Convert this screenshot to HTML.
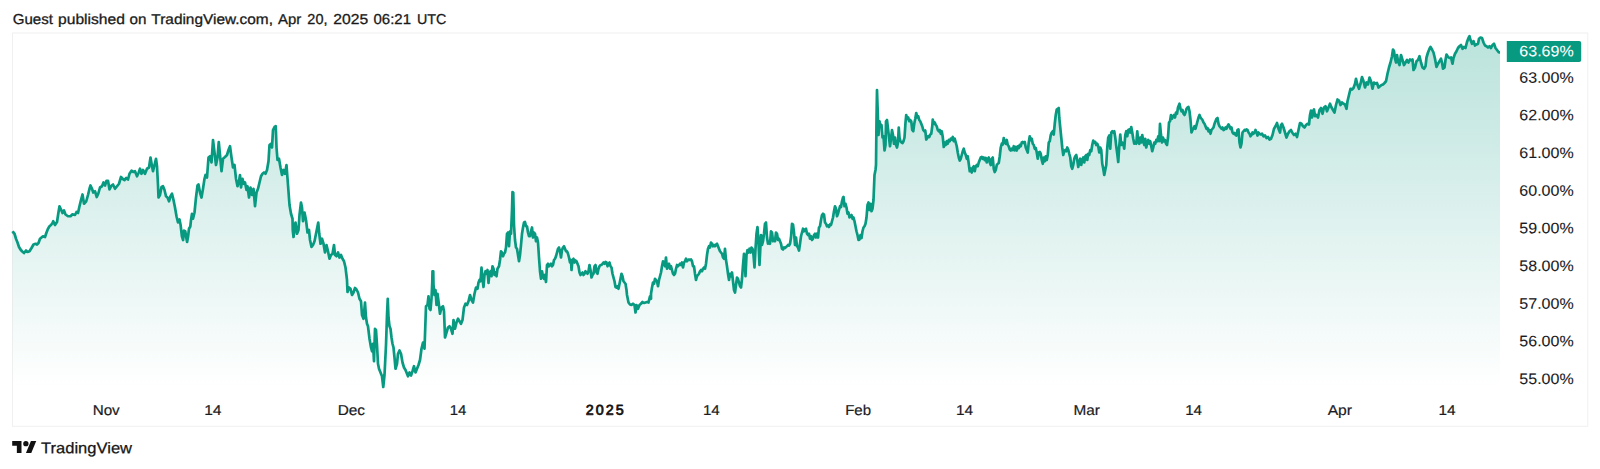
<!DOCTYPE html>
<html lang="en"><head><meta charset="utf-8"><title>TradingView Chart Snapshot</title>
<style>
html,body{margin:0;padding:0;background:#fff;}
body{width:1600px;height:469px;overflow:hidden;}
svg{display:block;}
svg text{font-family:"Liberation Sans",Arial,Helvetica,sans-serif;}
</style></head><body>
<svg width="1600" height="469" viewBox="0 0 1600 469">
<defs><linearGradient id="g" gradientUnits="userSpaceOnUse" x1="0" y1="33.0" x2="0" y2="388.0"><stop offset="0" stop-color="#089981" stop-opacity="0.28"/><stop offset="1" stop-color="#089981" stop-opacity="0"/></linearGradient></defs>
<rect x="12.5" y="33" width="1575.3" height="393.3" fill="none" stroke="#f0f0f0" stroke-width="1"/>
<path d="M12.5 231.25L13 232L14.5 233.75L16 238.75L17.5 242.5L19 247L20.5 249.5L22 251.25L24 253L26 250.5L27.5 252L29.5 251.25L31.5 248L33.5 244.5L35.5 243.75L37 244.5L38.5 243L40 238.75L41.5 237.5L43 236.25L45 237L46.5 232.5L48 228.75L49.5 226.25L51 225L52.5 223L53.25 221.25L55 225L57 222L58.25 213.75L59.5 206.25L61.25 210L62.5 213L64 210.5L65.5 214.5L68 216.25L70.5 216.25L72.5 214.25L75 215L76.5 212L78 213L79.5 206.25L81 200L82.5 194.5L84 203.75L86.25 201.25L88 195L89.5 188.75L90.5 185.5L92 188.75L93.25 192.5L95 191.25L96.75 197L98.25 193.75L100 187.5L102 186.25L103.5 182.5L105 185.5L106.5 180.75L108 180.75L109.5 189.5L111.5 185.5L113 184.5L115 188.75L117 186.25L119 183.75L121 177L122.5 178.75L124.5 180L126.25 178L128 179.5L129.5 173.75L131.5 170.75L133.5 172L135 171.25L137 176.25L138.75 172.5L140 168.75L141.5 173.75L143 170L145 173.75L147 168.75L149 167.5L150.5 157.5L152 166.25L153 171.25L154.5 165L156 158.75L157 166.25L158 185L158.5 197.5L160 195L161.5 187L163 186.25L164.5 190L166 196.25L167.5 197.5L169 201.25L170.5 196.25L172 193.75L173.5 200L175 207.5L176.5 216.25L178 222.5L179.5 219.5L180.6 225L181.9 236.25L183.1 240L184 230.6L185.25 231.25L186.25 237.5L187.1 241.9L188.1 236.25L189 228.75L190.3 226.5L191 220L192 213.75L193 218.75L194.5 212.5L196 197.5L197.5 185.5L198.5 184.5L200 192.5L201.5 197.5L203 188.75L204.5 178.75L205.5 175L207 177.5L208.5 157.5L210 156.25L211.5 162.5L213 140L214.5 152.5L216 165L217.5 157.5L218.75 142L220 155L221.5 171.25L223 158.75L225 157L227 155L228.5 150L230 146.25L231.5 157.5L233 167.5L234.5 165L236 178.75L237.5 186.25L239 181.25L240 175L241 187.5L242.5 178.75L243.75 183.75L245 182.5L246.5 190L247.5 186.25L249 197.5L250.5 187.5L252 195L253.5 188.75L255 206.25L256.5 192.5L258 188.75L259.5 182.5L261 176.25L262.5 173.75L264 172.5L265.5 173.75L267 170L268.5 161.25L269.5 145L271 143.75L272 147.5L273 130L274.5 127L275.75 126.25L276.5 147.5L277.5 160L279 158.75L280.5 167.5L282 175L283.5 170L285 173.75L286.5 165L288 185L289.5 205L291 213.75L292.5 218.75L292.75 230L293.5 237L294.5 228.75L295.5 222.5L297 233.75L298.5 230L299.5 215L301 202.5L302 207.5L303 221.25L304.5 212.5L306 220L307.5 232.5L309 230L310 240L311.5 247L313 245L314.5 241.25L316 233.75L317.5 226.25L318.25 222.5L319.25 233.75L320.5 243.75L322 238.75L323.5 243.75L325 252.5L326.5 245L328 251.25L329.5 258.75L331 255L332.5 253.75L334 245L335 255L336.5 256.25L338 252.5L339.5 257.5L341 255L342.5 258.75L344 261.25L345.5 267.5L347 280L347.5 292L349 287.5L350.5 288.75L352 295L353.5 292.5L355 288L356.5 289.5L358 292.5L359.5 298.75L361 301.25L362 315L363.5 318.75L365 302.5L366 317.5L367 323.75L368 326.25L369.5 338.75L371 347.5L372 351.25L373 343.75L374 361.25L375 328.75L376 330L377 345L378 363.75L379 368.75L380.5 372.5L382 376.25L383.25 387L384.5 375L386 345L387 315L387.75 298.75L388.5 317.5L389.5 326.25L390.5 328.75L391.5 337.5L392.5 343.75L393.5 347.5L394.5 357.5L395.5 368.75L397 363.75L398 353.75L399.5 350.5L401 353.75L402.5 362.5L404 367.5L405.5 370L407 373.75L408 376.25L409.5 372.5L411 375.5L412.5 371.25L414 366.25L415.5 372.5L417 368.75L418.5 365L420 360L421.5 348.75L423 342.5L424.5 348.75L426 306.25L427.5 305L428.5 296.25L429.5 308.75L430.5 310L431.5 298.75L432.25 282.5L432.5 271.25L433.25 271.25L433.5 285L434.5 295L435.5 290L436.5 305L437.5 293.75L438.5 301.25L440 313.75L441.5 307.5L443 306.25L444 311.25L445 337.5L446.5 332.5L448 327.5L449.5 326.25L451 328.75L452.5 333.75L453.5 320L455 328.75L456.5 322.5L458 318.75L459.5 321.25L461 323.75L462.5 320L464 307.5L465.5 303.75L467 305L468.5 301.25L470 295L471.5 300L473 302.5L474.5 293.75L476 287.5L477.5 288.75L478.5 282.5L479.5 280L480.5 281.25L481.5 267.5L482.5 278.75L483.5 287L484.5 275L485.5 271.25L486.5 273.75L487.5 270L488.5 283L489.5 272.5L490.5 271.25L491.5 276.25L492.5 266.25L493.5 268.75L494.5 275L495.5 272.5L496.5 276.25L497.5 268.75L499 266.25L500 260L501 251.25L502 252.5L503 256.25L504 253.75L505 252.5L506 247.5L507 233.75L508 232.5L509 246.25L510 231.25L511 233.75L512 210L512.5 192L513.25 192.5L514 225L515 240L516 247.5L517 248.75L518 255L519 261.25L520 255L521 245L522 233.75L523 227.5L524 222.5L525 222L526 226.25L527 226.25L528 232.5L529 236.25L530 236.25L531 231.25L532 227.5L533 237.5L534 232.5L535 233.75L536 241.25L537 237.5L538 242.5L539 257.5L540 271.25L541 278.75L542 271.25L543 276.25L544 278.75L545 275L546 282L547 265L548 263.75L549 266.25L550 265L551 263.75L552 266.25L553 265L554 260L555 258.75L556 256.25L557 252.5L558 248.75L559 247.5L560 251.25L561 257.5L562 250L563 247.5L564 246.25L565 248.75L566 251.25L567 251.25L568 253.75L569 257.5L570 262.5L571 260L571.5 270L572.5 260L573.5 258.75L574.5 262.5L575.5 260.5L576.5 261.25L577.5 263.75L578.5 266.25L579.5 272.5L580.5 275L581.5 273.75L582.5 272.5L583.5 275L584.5 273.75L585.5 271.25L586.5 272.5L587.5 273.75L588.5 271.25L589.5 265L590.5 270L591.5 277.5L592.5 275L593.5 273.75L594.5 266.25L595.5 265L596.5 272.5L597.5 273.75L598.5 268.75L599.5 266.25L600.5 265L601.5 265L602.5 263.75L603.5 262.5L604.5 263.75L605.5 262L606.5 262.5L607.5 266.25L608.5 263.75L609.5 262.5L610.5 266.25L611.5 267.5L612.5 273.75L613.5 277.5L614.5 281.25L615.5 287L616.5 287.5L617.5 286.25L618.5 288.75L619.5 283.75L620.5 278.75L621.5 273.75L622.5 276.25L623.5 281.25L624.5 282.5L625.5 283.75L626.5 290L627 295L628.5 302.5L630 304.5L631.5 305L633 303.75L634.5 305L635.5 312.5L636.5 305L638 308.75L639.5 305L641 303.75L642.5 302L644 303L645.5 302.5L647 302L648.5 302.5L650 296.25L651 298.75L651 293.75L652 287.5L653 282.5L654 283.75L655 278.75L656 280L657 281.25L658 286.25L659 280L660 276.25L661 272.5L662 266.25L663 261.25L664 262.5L665 266.25L666 257.5L667 268.75L668 265L669 263.75L670 268.75L671 266.25L672 270L673 273.75L674 275L675 273.75L676 268.75L677 265L678 266.25L679 265L680 263.75L681 265L682 262.5L683 267.5L684 262.5L685 261.25L686 258.75L687 261.25L688 260L689 259.5L690 260L691 259.5L692 261.25L693 266.25L694 266.25L695 273.75L696 280L697 276.25L698 275L699 273.75L700 271.25L701 270L702 271.25L703 268.75L704 267.5L705 268.75L706 263.75L707 255L708 248.75L709 246.25L710 247.5L711 242.5L712 243.75L713 246.25L714 245L715 246.25L716 244.5L717 243.75L718 246.25L719 248.75L720 251.25L721 252.5L722 253.75L723 257.5L724 258.75L725 248.75L726 260L727 266.25L728 273.75L729 280L730 273.75L731 276.25L732 272.5L733 281.25L734 290L735 292.5L736 285L737 277.5L738 278.75L739 282.5L740 286.25L741 287.5L742 278.75L743 265L744 253.75L745 265L745.5 276.25L746.5 255L747.5 250L748.5 252.5L749.5 248.75L750.5 252.5L751.5 247.5L752.5 248.75L753.5 255L754.5 267.5L755.5 248.75L756.5 233.75L757.5 227L758.5 242.5L759.5 265L761 235L762 245L763 241.25L764 233.75L765 223.75L766 222.5L767 237.5L768 243.75L769 242.5L770 243.75L771 231.25L772 232.5L773 241.25L774 240L775 241.25L776 232.5L777 233.75L778 240L779 238.75L780 241.25L781 243.75L782 248.75L783 249.5L784 247.5L785 248L786 247L787 246.25L788 245L789 245.5L790 243.75L791 237.5L792 223.75L793 224.5L794 232.5L795 245L796 237.5L797 246.25L798 247.5L799 250.5L800 243.75L801 236.25L802 232.5L803 228.75L804 231.25L805 229.5L806 228.75L807 233.75L808 235L809 233.75L810 238.75L811 236.25L812 240L813 238.75L814 235L815 233.75L816 237.5L817 233.75L818 237.5L819 227.5L820 226.25L821 220L822 215L823 213.75L824 214.5L825 222.5L826 223.75L827 226.25L828 225.5L829 227L830 224.5L831 225L832 221.25L833 217.5L834 211.25L835 206.25L836 208.75L837 216.25L838 213.75L839 210L840 206.25L841 207L842 201.25L843 197.5L843.5 197L844.5 206.25L845.5 203.75L846.5 207.5L847.5 213.75L848.5 212.5L849.5 217.5L850.5 216.25L851.5 215L852.5 218.75L853.5 217.5L854.5 221.25L855.5 226.25L856.5 231.25L857.5 235L858.5 240L859.5 239.5L860.5 235L861.5 238L862.5 231.25L863.5 227.5L864.5 226.25L865.5 223.75L866.5 217.5L867.5 205L868.5 202.5L869.5 210L870.5 203.75L871.5 211.25L872.5 208.75L873.5 200L874.5 175L875.5 170L876 165L876.5 120L877 90L877.5 105L878.5 135L879.5 121.25L880.5 126.25L881.5 125L882.5 137.5L883.5 136.25L884.5 150.5L885.5 145L886 121.25L887 120L888 128.75L889 137.5L890 146.25L891 138.75L892 130L893 135L894 143.75L895 137.5L896 145L897 147.5L898 142.5L898.75 127.5L899.5 137.5L900.5 141.25L901.5 142.5L902.5 143L903.5 141.25L904.5 137.5L905.5 122.5L906.25 115L907.25 118.75L908.25 117.5L909.25 121.25L910.25 120L911.25 121.25L912.25 130L913.25 131.25L914.25 123.75L915.25 118.75L916.25 113L917.25 117.5L918.25 116.25L919.25 120L920.25 121.25L921.25 123.75L922.25 126.25L923.25 130L924.25 131.25L925.25 130.5L926.25 139.5L927.25 138L928.25 136.25L929.25 137L930.25 134.5L931.25 133.75L932.25 126.25L932.75 119.5L933.75 123.75L934.75 122.5L935.75 125L936.75 126.25L937.75 130L938.75 131.25L939.75 130L940.75 133.75L941.75 131.25L942.75 137L943.75 147L944.75 142.5L945.75 145L946.75 141.25L947.75 143.75L948.75 140L949.75 141.25L950.75 138.75L951.75 139.5L952.75 137L953.75 141.25L954.75 138.75L955.75 142.5L956.75 146.25L957.75 152.5L958.75 157.5L959.75 160.5L960.75 158.75L961.75 155L962.75 151.25L963.75 148.75L964.75 152.5L965.75 155L966.75 158.75L967.75 156.25L968.75 163.75L969.75 171.25L970.75 168.75L971.75 172.5L972.75 167.5L973.75 166.25L974.75 171.25L975.75 166.25L976.75 165L977.75 166.25L978.75 162.5L979.75 160L980.75 157.5L981.75 157L982.75 158.75L983.75 157.5L984.75 160L985.75 158L986.75 162.5L987.75 158.75L988.75 157.5L989.75 162.5L990.75 165L991.75 158.75L992.75 157.5L993.75 168.75L994.75 172L995.75 170L996.75 165L997.75 163.75L998.75 163L999.75 156.25L1000.75 147.5L1001.75 143.75L1002.75 144.5L1003.75 138L1004.75 142.5L1005.75 143.75L1006.75 140L1007.75 145L1008.75 146.25L1009.75 149.5L1010.75 150.5L1011.75 148.75L1012.75 150L1013.75 146.25L1014.75 150.5L1015.75 147L1016.75 150.5L1017.75 146.25L1018.75 148L1019.75 145L1020.75 146.25L1021.75 142.5L1022.75 142L1023.75 143L1024.75 142L1025.75 147.5L1026.75 150L1027.75 152.5L1028.75 142.5L1029.75 136.25L1030.75 140L1031.75 138.75L1032.75 143.75L1033.75 145L1034.75 148.75L1035.75 148L1036.75 152.5L1037.75 158.75L1038.75 152.5L1039.75 152L1040.75 153.75L1041.75 160L1042.75 163.75L1043.75 157.5L1044.75 161.25L1045.75 156.25L1046.75 160L1047.75 155L1048.75 142.5L1049.75 141.25L1050.75 135L1051.75 132.5L1052.75 131.25L1053.75 134.5L1054.75 123.75L1055.75 115L1056.75 109.5L1057.75 108.75L1058.75 108L1059.25 117.5L1060.25 127.5L1061.25 137.5L1062.25 147.5L1063.25 155L1064.25 151.25L1065.25 150L1066.25 151.25L1067.25 147.5L1068.25 149.5L1069.25 153.75L1070.25 157.5L1071.25 166.25L1072.25 168.75L1073.25 165L1074.25 158.75L1075.25 156.25L1076.25 155L1077.25 160L1078.25 167L1079.25 162.5L1080.25 158.75L1081.25 165L1082.25 160L1083.25 157.5L1084.25 162.5L1085.25 156.25L1086.25 155L1087.25 160L1088.25 153.75L1089.25 155L1090.25 150L1091.25 151.25L1092.25 145L1093.25 140.5L1094.25 142.5L1095.25 142L1096.25 145L1097.25 143.75L1098.25 146.25L1099.25 152.5L1100.25 147.5L1101.25 150L1102.25 163.75L1103.25 168.75L1104.25 175L1105.25 170L1106.25 165L1107.25 147.5L1108.25 137.5L1109.25 135.5L1110.25 148.75L1111.25 132.5L1112.25 131.25L1113.25 132.5L1114.25 131.25L1115.25 137.5L1116.25 146.25L1117.25 153.75L1118.25 162L1119.25 146.25L1120.25 134.5L1121.25 145L1122.25 142.5L1123.25 143.75L1124.25 148.75L1125.25 135L1126.25 131.25L1127.25 136.25L1128.25 130L1129.25 129.5L1130.25 132.5L1131.25 127L1132.25 132.5L1133.25 138.75L1134.25 143.75L1135.25 142.5L1136.25 143.75L1137.25 131.25L1138.25 141.25L1139.25 143.75L1140.25 137.5L1141.25 142.5L1142.25 135L1143.25 141.25L1144.25 145L1145.25 138.75L1146.25 147.5L1147.25 142.5L1148.25 140L1149.25 143.75L1150.25 141.25L1151.25 146.25L1152.25 151.25L1153.25 147.5L1154.25 142.5L1155.25 143.75L1156.25 140L1157.25 141.25L1158.25 136.25L1159.25 141.25L1160 123.75L1161 135L1162 142.5L1163 137.5L1164 141.25L1165 140L1166 143.75L1167 145L1168 137.5L1169 122.5L1170 121.25L1171 115L1172 118.75L1173 116.25L1174 115L1175 117.5L1176 112.5L1177 113.75L1178 107.5L1179 105L1179.5 103.75L1180.5 108.75L1181.5 111.25L1182.5 110L1183.5 113.75L1184.5 115L1185.5 112.5L1186.5 108.75L1187.5 107.5L1188.5 107L1189.5 111.25L1190.5 120L1191.5 132.5L1192.5 130L1193.5 128.75L1194.5 126.25L1195.5 128.75L1196.5 125L1197.5 121.25L1198.5 117.5L1199.5 115L1200.5 117.5L1201.5 118.75L1202.5 120L1203.5 122.5L1204.5 123.75L1205.5 126.25L1206.5 128.75L1207.5 128L1208.5 131.25L1209.5 130L1210.5 133.75L1211.5 130L1212.5 128.75L1213.5 127.5L1214.5 123.75L1215.5 121.25L1216.5 118.75L1217.5 118L1218.5 123.75L1219.5 126.25L1220.5 127.5L1221.5 128.75L1222.5 127.5L1223.5 130L1224.5 129.5L1225.5 127.5L1226.5 128.75L1227.5 126.25L1228.5 124.5L1229.5 126.25L1230.5 128.75L1231.5 127.5L1232.5 132.5L1233.5 133.75L1234.5 133L1235.5 135L1236.5 135.5L1237.5 130L1238.5 129.5L1239.5 142.5L1240.5 147.5L1241.5 143.75L1242.5 132.5L1243.5 131.25L1244.5 130L1245.5 130.5L1246.5 129.5L1247.5 130L1248.5 132.5L1249.5 133.75L1250.5 136.25L1251.5 135L1252.5 132.5L1253.5 133.75L1254.5 132.5L1255.5 130L1256.5 132.5L1257.5 135.5L1258.5 132.5L1259.5 133.75L1260.5 134.5L1262 133.75L1263.5 136.25L1265 135.5L1266.5 138L1268 137L1269.5 139.5L1271 138.75L1272.5 135L1274 128.75L1275.5 126.25L1277 123L1278.5 128.75L1280 132.5L1281 125L1282 123.75L1283.5 127.5L1285 132.5L1286.5 137.5L1288 133.75L1289.5 131.25L1291 130L1292.5 133L1294 135L1295.5 133.75L1297 137L1298.5 130L1300 123L1301.5 123.75L1303 126.25L1304.5 127.5L1306 125L1307.5 123.75L1309 124.5L1310 115L1311 110.5L1312 117.5L1313 111.25L1314 109.5L1315 116.25L1316.5 115L1318 117.5L1319.5 110L1321 108L1322.5 113.75L1324 107.5L1325.5 106.25L1327 111.25L1328.5 107.5L1330 103.75L1331.5 107.5L1333 110L1334.5 112.5L1336 105L1337.5 99.5L1339 100.5L1340.5 105L1342 102.5L1343.5 103.75L1345 104.5L1346.5 108.75L1347.5 101.25L1349 95L1350.5 88.75L1352 89.5L1353.5 88L1355 83.75L1356 78.75L1357.5 85L1359 88.75L1360.5 83.75L1362 77L1363.5 81.25L1365 87.5L1366.5 82.5L1368 84.5L1369.5 77.5L1371 81.25L1372.5 88.75L1374 82.5L1375.5 83.75L1377 83L1378.5 87.5L1380 86.25L1381.5 85L1383 84.5L1384.5 83L1386 81.25L1387.5 73.75L1389 67.5L1390.5 62.5L1392 56.25L1393 49.5L1394 51.25L1395 58.75L1396 62.5L1397 55L1398 61.25L1399.5 65L1401 55L1402.5 60L1404 65L1405.5 62.5L1407 60L1408.5 62.5L1410 59.5L1411.5 60.5L1412.5 59.5L1413.5 70L1415 67.5L1416.5 61.25L1418 60L1419.5 56.25L1421 62.5L1422.5 67.5L1424 68.75L1425.5 66.25L1426.5 57.5L1428 52.5L1429.5 48.75L1430.5 47L1432 49.5L1433.5 52.5L1435 58.75L1436.5 67L1438 63.75L1439.5 61.25L1441 58.75L1442 62.5L1443 68.75L1444.5 67.5L1445.5 60L1446.5 54.5L1448 57L1449.5 58L1451 57.5L1452.5 63.75L1453.5 58L1455 53.75L1456.5 51.25L1458 48L1459.5 46.25L1461 45L1462.5 48.75L1464 47L1465.5 48L1467 42L1468.5 38L1469.5 36.25L1470.5 40L1472 43.75L1473.5 41.25L1475 45.5L1476.5 44.5L1478 43.75L1479 38.75L1480.5 37.5L1482 38L1483.5 42.5L1485 45.5L1486.5 46.25L1488 47.5L1489.5 46.25L1491 48L1492.5 45L1494 43.75L1495.5 48L1497 50L1498.5 52L1499.5 52.5L1500 52.5L1500.00 388.00L12.50 388.00Z" fill="url(#g)"/>
<path d="M12.5 231.25L13 232L14.5 233.75L16 238.75L17.5 242.5L19 247L20.5 249.5L22 251.25L24 253L26 250.5L27.5 252L29.5 251.25L31.5 248L33.5 244.5L35.5 243.75L37 244.5L38.5 243L40 238.75L41.5 237.5L43 236.25L45 237L46.5 232.5L48 228.75L49.5 226.25L51 225L52.5 223L53.25 221.25L55 225L57 222L58.25 213.75L59.5 206.25L61.25 210L62.5 213L64 210.5L65.5 214.5L68 216.25L70.5 216.25L72.5 214.25L75 215L76.5 212L78 213L79.5 206.25L81 200L82.5 194.5L84 203.75L86.25 201.25L88 195L89.5 188.75L90.5 185.5L92 188.75L93.25 192.5L95 191.25L96.75 197L98.25 193.75L100 187.5L102 186.25L103.5 182.5L105 185.5L106.5 180.75L108 180.75L109.5 189.5L111.5 185.5L113 184.5L115 188.75L117 186.25L119 183.75L121 177L122.5 178.75L124.5 180L126.25 178L128 179.5L129.5 173.75L131.5 170.75L133.5 172L135 171.25L137 176.25L138.75 172.5L140 168.75L141.5 173.75L143 170L145 173.75L147 168.75L149 167.5L150.5 157.5L152 166.25L153 171.25L154.5 165L156 158.75L157 166.25L158 185L158.5 197.5L160 195L161.5 187L163 186.25L164.5 190L166 196.25L167.5 197.5L169 201.25L170.5 196.25L172 193.75L173.5 200L175 207.5L176.5 216.25L178 222.5L179.5 219.5L180.6 225L181.9 236.25L183.1 240L184 230.6L185.25 231.25L186.25 237.5L187.1 241.9L188.1 236.25L189 228.75L190.3 226.5L191 220L192 213.75L193 218.75L194.5 212.5L196 197.5L197.5 185.5L198.5 184.5L200 192.5L201.5 197.5L203 188.75L204.5 178.75L205.5 175L207 177.5L208.5 157.5L210 156.25L211.5 162.5L213 140L214.5 152.5L216 165L217.5 157.5L218.75 142L220 155L221.5 171.25L223 158.75L225 157L227 155L228.5 150L230 146.25L231.5 157.5L233 167.5L234.5 165L236 178.75L237.5 186.25L239 181.25L240 175L241 187.5L242.5 178.75L243.75 183.75L245 182.5L246.5 190L247.5 186.25L249 197.5L250.5 187.5L252 195L253.5 188.75L255 206.25L256.5 192.5L258 188.75L259.5 182.5L261 176.25L262.5 173.75L264 172.5L265.5 173.75L267 170L268.5 161.25L269.5 145L271 143.75L272 147.5L273 130L274.5 127L275.75 126.25L276.5 147.5L277.5 160L279 158.75L280.5 167.5L282 175L283.5 170L285 173.75L286.5 165L288 185L289.5 205L291 213.75L292.5 218.75L292.75 230L293.5 237L294.5 228.75L295.5 222.5L297 233.75L298.5 230L299.5 215L301 202.5L302 207.5L303 221.25L304.5 212.5L306 220L307.5 232.5L309 230L310 240L311.5 247L313 245L314.5 241.25L316 233.75L317.5 226.25L318.25 222.5L319.25 233.75L320.5 243.75L322 238.75L323.5 243.75L325 252.5L326.5 245L328 251.25L329.5 258.75L331 255L332.5 253.75L334 245L335 255L336.5 256.25L338 252.5L339.5 257.5L341 255L342.5 258.75L344 261.25L345.5 267.5L347 280L347.5 292L349 287.5L350.5 288.75L352 295L353.5 292.5L355 288L356.5 289.5L358 292.5L359.5 298.75L361 301.25L362 315L363.5 318.75L365 302.5L366 317.5L367 323.75L368 326.25L369.5 338.75L371 347.5L372 351.25L373 343.75L374 361.25L375 328.75L376 330L377 345L378 363.75L379 368.75L380.5 372.5L382 376.25L383.25 387L384.5 375L386 345L387 315L387.75 298.75L388.5 317.5L389.5 326.25L390.5 328.75L391.5 337.5L392.5 343.75L393.5 347.5L394.5 357.5L395.5 368.75L397 363.75L398 353.75L399.5 350.5L401 353.75L402.5 362.5L404 367.5L405.5 370L407 373.75L408 376.25L409.5 372.5L411 375.5L412.5 371.25L414 366.25L415.5 372.5L417 368.75L418.5 365L420 360L421.5 348.75L423 342.5L424.5 348.75L426 306.25L427.5 305L428.5 296.25L429.5 308.75L430.5 310L431.5 298.75L432.25 282.5L432.5 271.25L433.25 271.25L433.5 285L434.5 295L435.5 290L436.5 305L437.5 293.75L438.5 301.25L440 313.75L441.5 307.5L443 306.25L444 311.25L445 337.5L446.5 332.5L448 327.5L449.5 326.25L451 328.75L452.5 333.75L453.5 320L455 328.75L456.5 322.5L458 318.75L459.5 321.25L461 323.75L462.5 320L464 307.5L465.5 303.75L467 305L468.5 301.25L470 295L471.5 300L473 302.5L474.5 293.75L476 287.5L477.5 288.75L478.5 282.5L479.5 280L480.5 281.25L481.5 267.5L482.5 278.75L483.5 287L484.5 275L485.5 271.25L486.5 273.75L487.5 270L488.5 283L489.5 272.5L490.5 271.25L491.5 276.25L492.5 266.25L493.5 268.75L494.5 275L495.5 272.5L496.5 276.25L497.5 268.75L499 266.25L500 260L501 251.25L502 252.5L503 256.25L504 253.75L505 252.5L506 247.5L507 233.75L508 232.5L509 246.25L510 231.25L511 233.75L512 210L512.5 192L513.25 192.5L514 225L515 240L516 247.5L517 248.75L518 255L519 261.25L520 255L521 245L522 233.75L523 227.5L524 222.5L525 222L526 226.25L527 226.25L528 232.5L529 236.25L530 236.25L531 231.25L532 227.5L533 237.5L534 232.5L535 233.75L536 241.25L537 237.5L538 242.5L539 257.5L540 271.25L541 278.75L542 271.25L543 276.25L544 278.75L545 275L546 282L547 265L548 263.75L549 266.25L550 265L551 263.75L552 266.25L553 265L554 260L555 258.75L556 256.25L557 252.5L558 248.75L559 247.5L560 251.25L561 257.5L562 250L563 247.5L564 246.25L565 248.75L566 251.25L567 251.25L568 253.75L569 257.5L570 262.5L571 260L571.5 270L572.5 260L573.5 258.75L574.5 262.5L575.5 260.5L576.5 261.25L577.5 263.75L578.5 266.25L579.5 272.5L580.5 275L581.5 273.75L582.5 272.5L583.5 275L584.5 273.75L585.5 271.25L586.5 272.5L587.5 273.75L588.5 271.25L589.5 265L590.5 270L591.5 277.5L592.5 275L593.5 273.75L594.5 266.25L595.5 265L596.5 272.5L597.5 273.75L598.5 268.75L599.5 266.25L600.5 265L601.5 265L602.5 263.75L603.5 262.5L604.5 263.75L605.5 262L606.5 262.5L607.5 266.25L608.5 263.75L609.5 262.5L610.5 266.25L611.5 267.5L612.5 273.75L613.5 277.5L614.5 281.25L615.5 287L616.5 287.5L617.5 286.25L618.5 288.75L619.5 283.75L620.5 278.75L621.5 273.75L622.5 276.25L623.5 281.25L624.5 282.5L625.5 283.75L626.5 290L627 295L628.5 302.5L630 304.5L631.5 305L633 303.75L634.5 305L635.5 312.5L636.5 305L638 308.75L639.5 305L641 303.75L642.5 302L644 303L645.5 302.5L647 302L648.5 302.5L650 296.25L651 298.75L651 293.75L652 287.5L653 282.5L654 283.75L655 278.75L656 280L657 281.25L658 286.25L659 280L660 276.25L661 272.5L662 266.25L663 261.25L664 262.5L665 266.25L666 257.5L667 268.75L668 265L669 263.75L670 268.75L671 266.25L672 270L673 273.75L674 275L675 273.75L676 268.75L677 265L678 266.25L679 265L680 263.75L681 265L682 262.5L683 267.5L684 262.5L685 261.25L686 258.75L687 261.25L688 260L689 259.5L690 260L691 259.5L692 261.25L693 266.25L694 266.25L695 273.75L696 280L697 276.25L698 275L699 273.75L700 271.25L701 270L702 271.25L703 268.75L704 267.5L705 268.75L706 263.75L707 255L708 248.75L709 246.25L710 247.5L711 242.5L712 243.75L713 246.25L714 245L715 246.25L716 244.5L717 243.75L718 246.25L719 248.75L720 251.25L721 252.5L722 253.75L723 257.5L724 258.75L725 248.75L726 260L727 266.25L728 273.75L729 280L730 273.75L731 276.25L732 272.5L733 281.25L734 290L735 292.5L736 285L737 277.5L738 278.75L739 282.5L740 286.25L741 287.5L742 278.75L743 265L744 253.75L745 265L745.5 276.25L746.5 255L747.5 250L748.5 252.5L749.5 248.75L750.5 252.5L751.5 247.5L752.5 248.75L753.5 255L754.5 267.5L755.5 248.75L756.5 233.75L757.5 227L758.5 242.5L759.5 265L761 235L762 245L763 241.25L764 233.75L765 223.75L766 222.5L767 237.5L768 243.75L769 242.5L770 243.75L771 231.25L772 232.5L773 241.25L774 240L775 241.25L776 232.5L777 233.75L778 240L779 238.75L780 241.25L781 243.75L782 248.75L783 249.5L784 247.5L785 248L786 247L787 246.25L788 245L789 245.5L790 243.75L791 237.5L792 223.75L793 224.5L794 232.5L795 245L796 237.5L797 246.25L798 247.5L799 250.5L800 243.75L801 236.25L802 232.5L803 228.75L804 231.25L805 229.5L806 228.75L807 233.75L808 235L809 233.75L810 238.75L811 236.25L812 240L813 238.75L814 235L815 233.75L816 237.5L817 233.75L818 237.5L819 227.5L820 226.25L821 220L822 215L823 213.75L824 214.5L825 222.5L826 223.75L827 226.25L828 225.5L829 227L830 224.5L831 225L832 221.25L833 217.5L834 211.25L835 206.25L836 208.75L837 216.25L838 213.75L839 210L840 206.25L841 207L842 201.25L843 197.5L843.5 197L844.5 206.25L845.5 203.75L846.5 207.5L847.5 213.75L848.5 212.5L849.5 217.5L850.5 216.25L851.5 215L852.5 218.75L853.5 217.5L854.5 221.25L855.5 226.25L856.5 231.25L857.5 235L858.5 240L859.5 239.5L860.5 235L861.5 238L862.5 231.25L863.5 227.5L864.5 226.25L865.5 223.75L866.5 217.5L867.5 205L868.5 202.5L869.5 210L870.5 203.75L871.5 211.25L872.5 208.75L873.5 200L874.5 175L875.5 170L876 165L876.5 120L877 90L877.5 105L878.5 135L879.5 121.25L880.5 126.25L881.5 125L882.5 137.5L883.5 136.25L884.5 150.5L885.5 145L886 121.25L887 120L888 128.75L889 137.5L890 146.25L891 138.75L892 130L893 135L894 143.75L895 137.5L896 145L897 147.5L898 142.5L898.75 127.5L899.5 137.5L900.5 141.25L901.5 142.5L902.5 143L903.5 141.25L904.5 137.5L905.5 122.5L906.25 115L907.25 118.75L908.25 117.5L909.25 121.25L910.25 120L911.25 121.25L912.25 130L913.25 131.25L914.25 123.75L915.25 118.75L916.25 113L917.25 117.5L918.25 116.25L919.25 120L920.25 121.25L921.25 123.75L922.25 126.25L923.25 130L924.25 131.25L925.25 130.5L926.25 139.5L927.25 138L928.25 136.25L929.25 137L930.25 134.5L931.25 133.75L932.25 126.25L932.75 119.5L933.75 123.75L934.75 122.5L935.75 125L936.75 126.25L937.75 130L938.75 131.25L939.75 130L940.75 133.75L941.75 131.25L942.75 137L943.75 147L944.75 142.5L945.75 145L946.75 141.25L947.75 143.75L948.75 140L949.75 141.25L950.75 138.75L951.75 139.5L952.75 137L953.75 141.25L954.75 138.75L955.75 142.5L956.75 146.25L957.75 152.5L958.75 157.5L959.75 160.5L960.75 158.75L961.75 155L962.75 151.25L963.75 148.75L964.75 152.5L965.75 155L966.75 158.75L967.75 156.25L968.75 163.75L969.75 171.25L970.75 168.75L971.75 172.5L972.75 167.5L973.75 166.25L974.75 171.25L975.75 166.25L976.75 165L977.75 166.25L978.75 162.5L979.75 160L980.75 157.5L981.75 157L982.75 158.75L983.75 157.5L984.75 160L985.75 158L986.75 162.5L987.75 158.75L988.75 157.5L989.75 162.5L990.75 165L991.75 158.75L992.75 157.5L993.75 168.75L994.75 172L995.75 170L996.75 165L997.75 163.75L998.75 163L999.75 156.25L1000.75 147.5L1001.75 143.75L1002.75 144.5L1003.75 138L1004.75 142.5L1005.75 143.75L1006.75 140L1007.75 145L1008.75 146.25L1009.75 149.5L1010.75 150.5L1011.75 148.75L1012.75 150L1013.75 146.25L1014.75 150.5L1015.75 147L1016.75 150.5L1017.75 146.25L1018.75 148L1019.75 145L1020.75 146.25L1021.75 142.5L1022.75 142L1023.75 143L1024.75 142L1025.75 147.5L1026.75 150L1027.75 152.5L1028.75 142.5L1029.75 136.25L1030.75 140L1031.75 138.75L1032.75 143.75L1033.75 145L1034.75 148.75L1035.75 148L1036.75 152.5L1037.75 158.75L1038.75 152.5L1039.75 152L1040.75 153.75L1041.75 160L1042.75 163.75L1043.75 157.5L1044.75 161.25L1045.75 156.25L1046.75 160L1047.75 155L1048.75 142.5L1049.75 141.25L1050.75 135L1051.75 132.5L1052.75 131.25L1053.75 134.5L1054.75 123.75L1055.75 115L1056.75 109.5L1057.75 108.75L1058.75 108L1059.25 117.5L1060.25 127.5L1061.25 137.5L1062.25 147.5L1063.25 155L1064.25 151.25L1065.25 150L1066.25 151.25L1067.25 147.5L1068.25 149.5L1069.25 153.75L1070.25 157.5L1071.25 166.25L1072.25 168.75L1073.25 165L1074.25 158.75L1075.25 156.25L1076.25 155L1077.25 160L1078.25 167L1079.25 162.5L1080.25 158.75L1081.25 165L1082.25 160L1083.25 157.5L1084.25 162.5L1085.25 156.25L1086.25 155L1087.25 160L1088.25 153.75L1089.25 155L1090.25 150L1091.25 151.25L1092.25 145L1093.25 140.5L1094.25 142.5L1095.25 142L1096.25 145L1097.25 143.75L1098.25 146.25L1099.25 152.5L1100.25 147.5L1101.25 150L1102.25 163.75L1103.25 168.75L1104.25 175L1105.25 170L1106.25 165L1107.25 147.5L1108.25 137.5L1109.25 135.5L1110.25 148.75L1111.25 132.5L1112.25 131.25L1113.25 132.5L1114.25 131.25L1115.25 137.5L1116.25 146.25L1117.25 153.75L1118.25 162L1119.25 146.25L1120.25 134.5L1121.25 145L1122.25 142.5L1123.25 143.75L1124.25 148.75L1125.25 135L1126.25 131.25L1127.25 136.25L1128.25 130L1129.25 129.5L1130.25 132.5L1131.25 127L1132.25 132.5L1133.25 138.75L1134.25 143.75L1135.25 142.5L1136.25 143.75L1137.25 131.25L1138.25 141.25L1139.25 143.75L1140.25 137.5L1141.25 142.5L1142.25 135L1143.25 141.25L1144.25 145L1145.25 138.75L1146.25 147.5L1147.25 142.5L1148.25 140L1149.25 143.75L1150.25 141.25L1151.25 146.25L1152.25 151.25L1153.25 147.5L1154.25 142.5L1155.25 143.75L1156.25 140L1157.25 141.25L1158.25 136.25L1159.25 141.25L1160 123.75L1161 135L1162 142.5L1163 137.5L1164 141.25L1165 140L1166 143.75L1167 145L1168 137.5L1169 122.5L1170 121.25L1171 115L1172 118.75L1173 116.25L1174 115L1175 117.5L1176 112.5L1177 113.75L1178 107.5L1179 105L1179.5 103.75L1180.5 108.75L1181.5 111.25L1182.5 110L1183.5 113.75L1184.5 115L1185.5 112.5L1186.5 108.75L1187.5 107.5L1188.5 107L1189.5 111.25L1190.5 120L1191.5 132.5L1192.5 130L1193.5 128.75L1194.5 126.25L1195.5 128.75L1196.5 125L1197.5 121.25L1198.5 117.5L1199.5 115L1200.5 117.5L1201.5 118.75L1202.5 120L1203.5 122.5L1204.5 123.75L1205.5 126.25L1206.5 128.75L1207.5 128L1208.5 131.25L1209.5 130L1210.5 133.75L1211.5 130L1212.5 128.75L1213.5 127.5L1214.5 123.75L1215.5 121.25L1216.5 118.75L1217.5 118L1218.5 123.75L1219.5 126.25L1220.5 127.5L1221.5 128.75L1222.5 127.5L1223.5 130L1224.5 129.5L1225.5 127.5L1226.5 128.75L1227.5 126.25L1228.5 124.5L1229.5 126.25L1230.5 128.75L1231.5 127.5L1232.5 132.5L1233.5 133.75L1234.5 133L1235.5 135L1236.5 135.5L1237.5 130L1238.5 129.5L1239.5 142.5L1240.5 147.5L1241.5 143.75L1242.5 132.5L1243.5 131.25L1244.5 130L1245.5 130.5L1246.5 129.5L1247.5 130L1248.5 132.5L1249.5 133.75L1250.5 136.25L1251.5 135L1252.5 132.5L1253.5 133.75L1254.5 132.5L1255.5 130L1256.5 132.5L1257.5 135.5L1258.5 132.5L1259.5 133.75L1260.5 134.5L1262 133.75L1263.5 136.25L1265 135.5L1266.5 138L1268 137L1269.5 139.5L1271 138.75L1272.5 135L1274 128.75L1275.5 126.25L1277 123L1278.5 128.75L1280 132.5L1281 125L1282 123.75L1283.5 127.5L1285 132.5L1286.5 137.5L1288 133.75L1289.5 131.25L1291 130L1292.5 133L1294 135L1295.5 133.75L1297 137L1298.5 130L1300 123L1301.5 123.75L1303 126.25L1304.5 127.5L1306 125L1307.5 123.75L1309 124.5L1310 115L1311 110.5L1312 117.5L1313 111.25L1314 109.5L1315 116.25L1316.5 115L1318 117.5L1319.5 110L1321 108L1322.5 113.75L1324 107.5L1325.5 106.25L1327 111.25L1328.5 107.5L1330 103.75L1331.5 107.5L1333 110L1334.5 112.5L1336 105L1337.5 99.5L1339 100.5L1340.5 105L1342 102.5L1343.5 103.75L1345 104.5L1346.5 108.75L1347.5 101.25L1349 95L1350.5 88.75L1352 89.5L1353.5 88L1355 83.75L1356 78.75L1357.5 85L1359 88.75L1360.5 83.75L1362 77L1363.5 81.25L1365 87.5L1366.5 82.5L1368 84.5L1369.5 77.5L1371 81.25L1372.5 88.75L1374 82.5L1375.5 83.75L1377 83L1378.5 87.5L1380 86.25L1381.5 85L1383 84.5L1384.5 83L1386 81.25L1387.5 73.75L1389 67.5L1390.5 62.5L1392 56.25L1393 49.5L1394 51.25L1395 58.75L1396 62.5L1397 55L1398 61.25L1399.5 65L1401 55L1402.5 60L1404 65L1405.5 62.5L1407 60L1408.5 62.5L1410 59.5L1411.5 60.5L1412.5 59.5L1413.5 70L1415 67.5L1416.5 61.25L1418 60L1419.5 56.25L1421 62.5L1422.5 67.5L1424 68.75L1425.5 66.25L1426.5 57.5L1428 52.5L1429.5 48.75L1430.5 47L1432 49.5L1433.5 52.5L1435 58.75L1436.5 67L1438 63.75L1439.5 61.25L1441 58.75L1442 62.5L1443 68.75L1444.5 67.5L1445.5 60L1446.5 54.5L1448 57L1449.5 58L1451 57.5L1452.5 63.75L1453.5 58L1455 53.75L1456.5 51.25L1458 48L1459.5 46.25L1461 45L1462.5 48.75L1464 47L1465.5 48L1467 42L1468.5 38L1469.5 36.25L1470.5 40L1472 43.75L1473.5 41.25L1475 45.5L1476.5 44.5L1478 43.75L1479 38.75L1480.5 37.5L1482 38L1483.5 42.5L1485 45.5L1486.5 46.25L1488 47.5L1489.5 46.25L1491 48L1492.5 45L1494 43.75L1495.5 48L1497 50L1498.5 52L1499.5 52.5L1500 52.5" fill="none" stroke="#089981" stroke-width="2.7" stroke-linejoin="round" stroke-linecap="butt"/>
<text transform="rotate(0.03 230 24)" y="24.0" font-size="14.3" fill="#1a1a1a" stroke="#1a1a1a" stroke-width="0.3"><tspan x="12.75" textLength="40.20" lengthAdjust="spacingAndGlyphs">Guest</tspan> <tspan x="58.05" textLength="66.90" lengthAdjust="spacingAndGlyphs">published</tspan> <tspan x="129.55" textLength="16.90" lengthAdjust="spacingAndGlyphs">on</tspan> <tspan x="151.35" textLength="121.60" lengthAdjust="spacingAndGlyphs">TradingView.com,</tspan> <tspan x="278.05" textLength="23.20" lengthAdjust="spacingAndGlyphs">Apr</tspan> <tspan x="307.35" textLength="20.10" lengthAdjust="spacingAndGlyphs">20,</tspan> <tspan x="333.35" textLength="34.90" lengthAdjust="spacingAndGlyphs">2025</tspan> <tspan x="373.55" textLength="37.40" lengthAdjust="spacingAndGlyphs">06:21</tspan> <tspan x="417.05" textLength="29.40" lengthAdjust="spacingAndGlyphs">UTC</tspan></text>
<path d="M1506.8 41H1579.2a2 2 0 0 1 2 2V60a2 2 0 0 1 -2 2H1506.8Z" fill="#089981"/>
<text transform="rotate(0.03 1546.5 56.2)" x="1519.35" y="56.20" font-size="15.1" fill="#ffffff" stroke="#ffffff" stroke-width="0.05" font-weight="normal" textLength="54.30" lengthAdjust="spacingAndGlyphs">63.69%</text>
<text transform="rotate(0.03 1546.5 82.7)" x="1519.35" y="82.70" font-size="15.1" fill="#1b1b1f" stroke="#1b1b1f" stroke-width="0.1" font-weight="normal" textLength="54.30" lengthAdjust="spacingAndGlyphs">63.00%</text>
<text transform="rotate(0.03 1546.5 120.4)" x="1519.35" y="120.36" font-size="15.1" fill="#1b1b1f" stroke="#1b1b1f" stroke-width="0.1" font-weight="normal" textLength="54.30" lengthAdjust="spacingAndGlyphs">62.00%</text>
<text transform="rotate(0.03 1546.5 158.0)" x="1519.35" y="158.02" font-size="15.1" fill="#1b1b1f" stroke="#1b1b1f" stroke-width="0.1" font-weight="normal" textLength="54.30" lengthAdjust="spacingAndGlyphs">61.00%</text>
<text transform="rotate(0.03 1546.5 195.7)" x="1519.35" y="195.68" font-size="15.1" fill="#1b1b1f" stroke="#1b1b1f" stroke-width="0.1" font-weight="normal" textLength="54.30" lengthAdjust="spacingAndGlyphs">60.00%</text>
<text transform="rotate(0.03 1546.5 233.3)" x="1519.35" y="233.34" font-size="15.1" fill="#1b1b1f" stroke="#1b1b1f" stroke-width="0.1" font-weight="normal" textLength="54.30" lengthAdjust="spacingAndGlyphs">59.00%</text>
<text transform="rotate(0.03 1546.5 271.0)" x="1519.35" y="271.00" font-size="15.1" fill="#1b1b1f" stroke="#1b1b1f" stroke-width="0.1" font-weight="normal" textLength="54.30" lengthAdjust="spacingAndGlyphs">58.00%</text>
<text transform="rotate(0.03 1546.5 308.7)" x="1519.35" y="308.66" font-size="15.1" fill="#1b1b1f" stroke="#1b1b1f" stroke-width="0.1" font-weight="normal" textLength="54.30" lengthAdjust="spacingAndGlyphs">57.00%</text>
<text transform="rotate(0.03 1546.5 346.3)" x="1519.35" y="346.32" font-size="15.1" fill="#1b1b1f" stroke="#1b1b1f" stroke-width="0.1" font-weight="normal" textLength="54.30" lengthAdjust="spacingAndGlyphs">56.00%</text>
<text transform="rotate(0.03 1546.5 384.0)" x="1519.35" y="383.98" font-size="15.1" fill="#1b1b1f" stroke="#1b1b1f" stroke-width="0.1" font-weight="normal" textLength="54.30" lengthAdjust="spacingAndGlyphs">55.00%</text>
<text transform="rotate(0.03 106.2 415.0)" x="92.65" y="415.00" font-size="14.3" fill="#1b1b1f" stroke="#1b1b1f" stroke-width="0.2" font-weight="normal" textLength="27.10" lengthAdjust="spacingAndGlyphs">Nov</text>
<text transform="rotate(0.03 212.9 415.0)" x="204.15" y="415.00" font-size="14.3" fill="#1b1b1f" stroke="#1b1b1f" stroke-width="0.2" font-weight="normal" textLength="17.40" lengthAdjust="spacingAndGlyphs">14</text>
<text transform="rotate(0.03 351.4 415.0)" x="337.65" y="415.00" font-size="14.3" fill="#1b1b1f" stroke="#1b1b1f" stroke-width="0.2" font-weight="normal" textLength="27.40" lengthAdjust="spacingAndGlyphs">Dec</text>
<text transform="rotate(0.03 458.0 415.0)" x="449.65" y="415.00" font-size="14.3" fill="#1b1b1f" stroke="#1b1b1f" stroke-width="0.2" font-weight="normal" textLength="16.65" lengthAdjust="spacingAndGlyphs">14</text>
<text transform="rotate(0.03 605 415)" x="585.85" y="414.75" font-size="14.3" fill="#111" stroke="#111" stroke-width="0.75" stroke-linejoin="round" letter-spacing="2.05">2025</text>
<text transform="rotate(0.03 711.3 415.0)" x="702.90" y="415.00" font-size="14.3" fill="#1b1b1f" stroke="#1b1b1f" stroke-width="0.2" font-weight="normal" textLength="16.90" lengthAdjust="spacingAndGlyphs">14</text>
<text transform="rotate(0.03 858.1 415.0)" x="845.15" y="415.00" font-size="14.3" fill="#1b1b1f" stroke="#1b1b1f" stroke-width="0.2" font-weight="normal" textLength="25.90" lengthAdjust="spacingAndGlyphs">Feb</text>
<text transform="rotate(0.03 964.5 415.0)" x="955.90" y="415.00" font-size="14.3" fill="#1b1b1f" stroke="#1b1b1f" stroke-width="0.2" font-weight="normal" textLength="17.15" lengthAdjust="spacingAndGlyphs">14</text>
<text transform="rotate(0.03 1086.6 415.0)" x="1073.40" y="415.00" font-size="14.3" fill="#1b1b1f" stroke="#1b1b1f" stroke-width="0.2" font-weight="normal" textLength="26.40" lengthAdjust="spacingAndGlyphs">Mar</text>
<text transform="rotate(0.03 1193.6 415.0)" x="1185.15" y="415.00" font-size="14.3" fill="#1b1b1f" stroke="#1b1b1f" stroke-width="0.2" font-weight="normal" textLength="16.90" lengthAdjust="spacingAndGlyphs">14</text>
<text transform="rotate(0.03 1339.8 415.0)" x="1327.65" y="415.00" font-size="14.3" fill="#1b1b1f" stroke="#1b1b1f" stroke-width="0.2" font-weight="normal" textLength="24.40" lengthAdjust="spacingAndGlyphs">Apr</text>
<text transform="rotate(0.03 1447.0 415.0)" x="1438.40" y="415.00" font-size="14.3" fill="#1b1b1f" stroke="#1b1b1f" stroke-width="0.2" font-weight="normal" textLength="17.15" lengthAdjust="spacingAndGlyphs">14</text>
<g transform="translate(12.2 438.35) scale(0.664)" fill="#111111"><path d="M14 22H7V11H0V4h14v18z"/><path transform="translate(0.7 0)" d="M28 22h-8l7.5-18h8L28 22z"/><circle cx="20.6" cy="8" r="4"/></g>
<text transform="rotate(0.03 86.5 453.3)" x="41.10" y="453.30" font-size="15.5" fill="#151515" stroke="#151515" stroke-width="0.25" font-weight="normal" textLength="90.90" lengthAdjust="spacingAndGlyphs">TradingView</text>
</svg>
</body></html>
